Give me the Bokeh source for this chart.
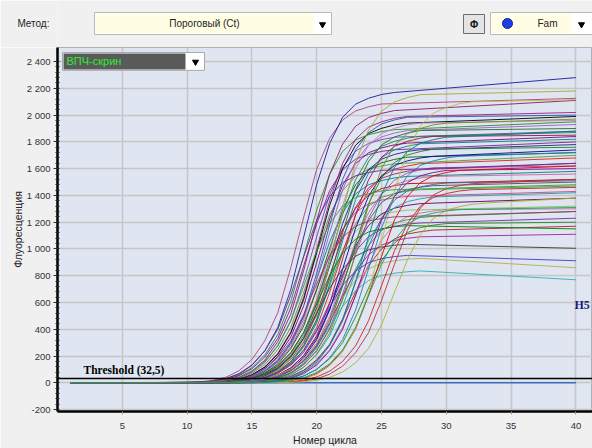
from bokeh.plotting import figure
from bokeh.models import ColumnDataSource, Span, Label, FixedTicker, Range1d
from bokeh.layouts import column
from bokeh.embed import file_html
from bokeh.resources import INLINE
from bokeh.core.properties import value

# ---------------- data ----------------
X_TICKS = [5, 10, 15, 20, 25, 30, 35, 40]
Y_TICKS = [-200, 0, 200, 400, 600, 800, 1000, 1200, 1400, 1600, 1800, 2000, 2200, 2400]
Y_MINOR = list(range(-200, 2401, 40))
THRESHOLD = 32.5
FIRST_CYCLE = 1
LAST_CYCLE = 40

# cycle where each curve's rise list begins
START = [10, 11, 11, 11, 11, 11, 11, 12, 12, 12, 12, 12, 12, 12, 12, 12, 12,
         13, 13, 13, 13, 13, 13, 13, 13, 13, 13, 13, 14, 14, 14, 14, 14, 14,
         14, 14, 14, 15, 15, 15, 15, 15, 12, 12, 13, 13, 13, 12, 16, 17, 17,
         17, 18, 16, 15, 10, 11, 11, 16]

# fluorescence, one value per cycle from START on
RISE = [
    [2, 8, 19, 42, 90, 174, 315, 525, 861, 1239, 1596, 1827, 1964, 2031, 2062, 2083],
    [4, 13, 31, 65, 131, 240, 414, 698, 1090, 1482, 1788, 1984, 2082, 2126, 2154, 2169],
    [4, 11, 27, 57, 114, 209, 361, 608, 950, 1292, 1558, 1729, 1815, 1853, 1877, 1891],
    [4, 11, 25, 53, 105, 193, 333, 560, 875, 1190, 1435, 1593, 1671, 1706, 1729, 1741],
    [2, 8, 18, 41, 88, 170, 308, 513, 841, 1210, 1558, 1784, 1917, 1982, 2013, 2034],
    [2, 7, 15, 33, 71, 137, 248, 413, 677, 974, 1254, 1436, 1543, 1596, 1620, 1637],
    [2, 7, 17, 37, 80, 154, 278, 463, 759, 1092, 1406, 1610, 1730, 1789, 1817, 1835],
    [4, 12, 28, 60, 120, 220, 380, 640, 1000, 1360, 1640, 1820, 1910, 1950, 1976, 1990],
    [3, 9, 22, 47, 93, 171, 295, 496, 775, 1054, 1271, 1411, 1480, 1511, 1531, 1542],
    [4, 12, 27, 59, 117, 215, 371, 624, 975, 1326, 1599, 1775, 1862, 1901, 1927, 1940],
    [3, 8, 20, 42, 84, 154, 266, 448, 700, 952, 1148, 1274, 1337, 1365, 1383, 1393],
    [4, 11, 25, 54, 108, 198, 342, 576, 900, 1224, 1476, 1638, 1719, 1755, 1778, 1791],
    [2, 7, 15, 34, 73, 141, 255, 425, 697, 1003, 1292, 1479, 1590, 1644, 1669, 1686],
    [2, 8, 17, 38, 82, 158, 285, 475, 779, 1121, 1444, 1653, 1777, 1837, 1866, 1885],
    [2, 6, 14, 30, 65, 125, 225, 375, 615, 885, 1140, 1305, 1403, 1451, 1473, 1488],
    [2, 8, 18, 40, 86, 166, 300, 500, 820, 1180, 1520, 1740, 1870, 1934, 1964, 1984],
    [1, 5, 12, 26, 56, 108, 195, 325, 533, 767, 988, 1131, 1216, 1257, 1277, 1290],
    [4, 11, 26, 56, 111, 204, 352, 592, 925, 1258, 1517, 1684, 1767, 1804, 1828, 1841],
    [3, 10, 22, 48, 96, 176, 304, 512, 800, 1088, 1312, 1456, 1528, 1560, 1581, 1592],
    [4, 11, 25, 53, 105, 193, 333, 560, 875, 1190, 1435, 1593, 1671, 1706, 1729, 1741],
    [3, 9, 20, 44, 87, 160, 276, 464, 725, 986, 1189, 1320, 1385, 1414, 1433, 1443],
    [4, 12, 27, 59, 117, 215, 371, 624, 975, 1326, 1599, 1775, 1862, 1901, 1927, 1940],
    [2, 7, 17, 36, 72, 132, 228, 384, 600, 816, 984, 1092, 1146, 1170, 1186, 1194],
    [2, 9, 20, 43, 93, 180, 326, 543, 890, 1280, 1649, 1888, 2029, 2098, 2131, 2153],
    [2, 7, 15, 33, 71, 137, 248, 413, 677, 974, 1254, 1436, 1543, 1596, 1620, 1637],
    [2, 7, 16, 36, 77, 149, 270, 450, 738, 1062, 1368, 1566, 1683, 1741, 1768, 1786],
    [1, 5, 12, 27, 58, 112, 203, 338, 554, 797, 1026, 1175, 1262, 1305, 1326, 1339],
    [2, 8, 17, 38, 82, 158, 285, 475, 779, 1121, 1444, 1653, 1777, 1837, 1866, 1885],
    [3, 9, 22, 47, 93, 171, 295, 496, 775, 1054, 1271, 1411, 1480, 1511, 1531, 1542],
    [3, 10, 24, 51, 102, 187, 323, 544, 850, 1156, 1394, 1547, 1624, 1658, 1680, 1692],
    [3, 8, 18, 38, 75, 138, 238, 400, 625, 850, 1025, 1138, 1194, 1219, 1235, 1244],
    [4, 11, 26, 56, 111, 204, 352, 592, 925, 1258, 1517, 1684, 1767, 1804, 1828, 1841],
    [3, 9, 21, 44, 89, 163, 281, 474, 740, 1006, 1214, 1347, 1413, 1443, 1462, 1473],
    [2, 6, 15, 32, 70, 134, 243, 405, 664, 956, 1231, 1409, 1515, 1567, 1591, 1607],
    [1, 6, 13, 28, 60, 116, 210, 350, 574, 826, 1064, 1218, 1309, 1354, 1375, 1389],
    [2, 7, 16, 35, 76, 146, 264, 440, 722, 1038, 1338, 1531, 1646, 1702, 1728, 1746],
    [1, 5, 10, 23, 49, 95, 173, 288, 472, 679, 874, 1001, 1075, 1112, 1129, 1141],
    [3, 9, 21, 45, 90, 165, 285, 480, 750, 1020, 1230, 1365, 1433, 1463, 1482, 1493],
    [3, 8, 18, 39, 78, 143, 247, 416, 650, 884, 1066, 1183, 1242, 1268, 1284, 1294],
    [4, 12, 27, 59, 117, 215, 371, 624, 975, 1326, 1599, 1775, 1862, 1901, 1927, 1940],
    [2, 6, 14, 32, 69, 133, 240, 400, 656, 944, 1216, 1392, 1496, 1547, 1571, 1587],
    [1, 5, 11, 24, 52, 100, 180, 300, 492, 708, 912, 1044, 1122, 1160, 1178, 1190],
    [2, 6, 15, 31, 62, 114, 198, 333, 520, 707, 853, 946, 993, 1014, 1028, 1035],
    [1, 4, 9, 19, 41, 80, 144, 240, 394, 566, 730, 835, 898, 928, 943, 952],
    [2, 6, 13, 28, 56, 103, 178, 299, 468, 636, 767, 851, 893, 912, 924, 930],
    [2, 5, 12, 25, 50, 92, 160, 269, 420, 571, 689, 764, 802, 819, 830, 836],
    [1, 4, 10, 22, 47, 91, 165, 275, 451, 649, 836, 957, 1029, 1064, 1080, 1091],
    [2, 7, 17, 35, 71, 130, 224, 378, 590, 802, 968, 1074, 1127, 1151, 1166, 1174],
    [2, 6, 14, 32, 69, 133, 240, 400, 656, 944, 1216, 1392, 1496, 1547, 1571, 1587],
    [3, 9, 20, 44, 87, 160, 276, 464, 725, 986, 1189, 1320, 1385, 1414, 1433, 1443],
    [4, 13, 30, 63, 127, 232, 401, 675, 1055, 1435, 1730, 1920, 2015, 2057, 2085, 2099],
    [2, 6, 14, 30, 65, 125, 225, 375, 615, 885, 1140, 1305, 1403, 1451, 1473, 1488],
    [3, 8, 19, 41, 81, 149, 257, 432, 675, 918, 1107, 1229, 1289, 1316, 1334, 1343],
    [3, 10, 24, 51, 102, 187, 323, 544, 850, 1156, 1394, 1547, 1624, 1658, 1680, 1692],
    [2, 7, 17, 37, 80, 154, 278, 463, 759, 1092, 1406, 1610, 1730, 1789, 1817, 1835],
    [2, 6, 14, 32, 69, 133, 240, 400, 656, 944, 1216, 1392, 1496, 1547, 1571, 1587],
    [3, 9, 20, 44, 87, 160, 276, 464, 725, 986, 1189, 1320, 1385, 1414, 1433, 1443],
    [1, 5, 11, 25, 54, 104, 188, 313, 513, 738, 950, 1088, 1169, 1209, 1228, 1240],
    [3, 8, 18, 39, 78, 143, 247, 416, 650, 884, 1066, 1183, 1242, 1268, 1284, 1294],
]

# fluorescence at the last cycle
END = [2125, 2280, 1950, 1800, 2110, 1700, 1880, 2020, 1580, 1990, 1430, 1840,
       1720, 1930, 1520, 2000, 1320, 1870, 1640, 1780, 1470, 1960, 1230, 2180,
       1680, 1820, 1380, 1900, 1560, 1740, 1280, 1850, 1500, 1620, 1420, 1760,
       1170, 1510, 1300, 1970, 1600, 1200, 1005, 912, 860, 770, 1110, 1150,
       1620, 1460, 2115, 1520, 1380, 1720, 1880, 1640, 1480, 1280, 1310]

COLORS = ["#b0407a", "#1c1c9c", "#2e8b2e", "#7a1f9a", "#8b1a6b", "#5a9a3a",
          "#6a4ab0", "#a0207a", "#008080", "#000000", "#d04090", "#800080",
          "#006400", "#9a60c0", "#c00000", "#3050c0", "#8fbc5f", "#1a8a5a",
          "#a02060", "#202080", "#40a040", "#c080c0", "#7030a0", "#a8a830",
          "#e02020", "#008b8b", "#600060", "#2a6a2a", "#d060a0", "#0000a0",
          "#30a030", "#a01050", "#505050", "#9a50b0", "#20a0a0", "#208020",
          "#b02020", "#4060b0", "#c070a0", "#6b8e23", "#8b008b", "#228b22",
          "#3a3a3a", "#4040c0", "#b0b050", "#30b0b0", "#a020a0", "#008000",
          "#e00000", "#d02020", "#b8c040", "#c03030", "#b0b030", "#2080c0",
          "#008080", "#6a2a9a", "#3a9a3a", "#a03070", "#20a060"]

# negative control (flat)
NC_CYCLES = [1, 40]
NC_VALUES = [0, 0]

# ---------------- layout helpers ----------------
FONT = "Liberation Sans"
X_RANGE = (0, 41.28)
Y_RANGE = (-214, 2505)
FRAME_L, FRAME_R, FRAME_T, FRAME_B = 57, 592, 47, 413
HEADER_H = 47
HEADER_MID = 23


def dx(px):
    return X_RANGE[0] + (px - FRAME_L) * (X_RANGE[1] - X_RANGE[0]) / (FRAME_R - FRAME_L)


def dy(py):
    return Y_RANGE[1] - (py - FRAME_T) * (Y_RANGE[1] - Y_RANGE[0]) / (FRAME_B - FRAME_T)


# ---------------- header (controls bar) ----------------
# the column aligns this frame with the chart frame (starting at x=57),
# so its x data units equal page pixels; "Метод:" sits in its left axis area
h = figure(width=592, height=HEADER_H, x_range=Range1d(FRAME_L, FRAME_R), y_range=Range1d(HEADER_H, 0),
           x_axis_type=None, toolbar_location=None,
           output_backend="svg", min_border=0, min_border_left=FRAME_L)
h.outline_line_color = None
h.background_fill_color = "#f0f0f0"
h.border_fill_color = "#f0f0f0"
h.xgrid.visible = False
h.ygrid.visible = False
h.yaxis.ticker = FixedTicker(ticks=[HEADER_MID], minor_ticks=[])
h.yaxis.major_label_overrides = {HEADER_MID: "Метод:"}
h.yaxis.axis_line_color = None
h.yaxis.major_tick_line_color = None
h.yaxis.minor_tick_line_color = None
h.yaxis.major_label_standoff = 2
h.yaxis.major_label_text_font = FONT
h.yaxis.major_label_text_font_size = "10px"
h.yaxis.major_label_text_color = "#1e1e1e"

h.quad(left=[94], right=[331], top=[12], bottom=[34], fill_color="white", line_color="#b9b9b9")
h.quad(left=[95], right=[313], top=[13], bottom=[33], fill_color="#fffde3", line_color=None)
h.text(x=[204], y=[HEADER_MID], text=["Пороговый (Ct)"], text_font=value(FONT), text_font_size=value("10px"),
       text_baseline="middle", text_align="center", text_color="#1e1e1e")
h.scatter(x=[322], y=[24], marker="inverted_triangle", size=6, color="black")
h.quad(left=[463], right=[484], top=[14], bottom=[33], fill_color="#e4e4e4", line_color="#6e6e6e")
h.text(x=[473.5], y=[23.5], text=["Φ"], text_font=value(FONT), text_font_size=value("10px"),
       text_font_style="bold", text_baseline="middle", text_align="center", text_color="#111")
h.quad(left=[490], right=[592], top=[12], bottom=[34], fill_color="white", line_color="#b9b9b9")
h.quad(left=[491], right=[571], top=[13], bottom=[33], fill_color="#fffde3", line_color=None)
h.scatter(x=[507], y=[HEADER_MID], marker="circle", size=10, fill_color="#1f3fe6", line_color="#10209a")
h.text(x=[547], y=[HEADER_MID], text=["Fam"], text_font=value(FONT), text_font_size=value("10px"),
       text_baseline="middle", text_align="center", text_color="#1e1e1e")
h.scatter(x=[581], y=[24], marker="inverted_triangle", size=6, color="black")

# ---------------- main chart ----------------
p = figure(width=592, height=448 - HEADER_H, x_range=Range1d(*X_RANGE), y_range=Range1d(*Y_RANGE),
           toolbar_location=None, output_backend="svg",
           min_border_left=FRAME_L, min_border_right=0, min_border_top=0,
           min_border_bottom=448 - FRAME_B)
p.background_fill_color = "#dfe6f1"
p.border_fill_color = "#f0f0f0"
p.outline_line_color = "#b0b0b0"

p.xaxis.ticker = FixedTicker(ticks=X_TICKS, minor_ticks=[])
p.yaxis.ticker = FixedTicker(ticks=Y_TICKS, minor_ticks=Y_MINOR)
p.xgrid.ticker = FixedTicker(ticks=X_TICKS)
p.ygrid.ticker = FixedTicker(ticks=Y_TICKS)
for g in (p.xgrid, p.ygrid):
    g.grid_line_color = "#c6c6c6"
    g.grid_line_width = 1.5

p.yaxis.major_label_overrides = {t: f"{t:,}".replace(",", " ") for t in Y_TICKS}
for ax in (p.xaxis, p.yaxis):
    ax.axis_line_color = "black"
    ax.axis_line_width = 2.5
    ax.major_label_text_font = FONT
    ax.major_label_text_font_size = "9.5px"
    ax.major_label_text_color = "#333333"
    ax.axis_label_text_font = FONT
    ax.axis_label_text_font_size = "10.5px"
    ax.axis_label_text_font_style = "normal"
    ax.axis_label_text_color = "#222222"
p.yaxis.axis_label = "Флуоресценция"
p.xaxis.axis_label = "Номер цикла"
p.yaxis.major_tick_line_color = "#333333"
p.yaxis.major_tick_out = 4
p.yaxis.major_tick_in = 0
p.yaxis.minor_tick_line_color = "#222222"
p.yaxis.minor_tick_out = 2
p.yaxis.minor_tick_in = 2
p.yaxis.major_label_standoff = 3
p.yaxis.axis_label_standoff = 0
p.xaxis.major_tick_line_color = "#9a9a9a"
p.xaxis.major_tick_out = 3
p.xaxis.major_tick_in = 0
p.xaxis.minor_tick_line_color = None
p.xaxis.major_label_standoff = 8
p.xaxis.axis_label_standoff = 2

# negative control
p.line(NC_CYCLES, NC_VALUES, line_color="#3a6fc0", line_width=1.5)

xs, ys = [], []
for s, vals, e in zip(START, RISE, END):
    xs.append([FIRST_CYCLE] + list(range(s, s + len(vals))) + [LAST_CYCLE])
    ys.append([0] + vals + [e])
src = ColumnDataSource(dict(xs=xs, ys=ys, color=COLORS))
p.multi_line("xs", "ys", source=src, line_color="color", line_width=1, line_alpha=0.9)

p.add_layout(Span(location=THRESHOLD, dimension="width", line_color="black", line_width=1.5))
p.add_layout(Label(x=dx(83), y=dy(371), text="Threshold (32,5)", text_baseline="middle",
                   text_font="Liberation Serif", text_font_style="bold",
                   text_font_size="11.5px", text_color="black"))
p.add_layout(Label(x=dx(574), y=dy(306), text="H5", text_baseline="middle",
                   text_font="Liberation Serif", text_font_style="bold",
                   text_font_size="12px", text_color="#1a1a7a"))

# channel selector box inside the chart
p.quad(left=[dx(62)], right=[dx(204)], top=[dy(52)], bottom=[dy(70)],
       fill_color="white", line_color="#a8a8a8")
p.quad(left=[dx(63)], right=[dx(185)], top=[dy(53)], bottom=[dy(69)],
       fill_color="#5a5a5a", line_color=None)
p.text(x=[dx(66)], y=[dy(61)], text=["ВПЧ-скрин"], text_font=value(FONT),
       text_font_size=value("11px"), text_baseline="middle", text_color="#2cf02c")
p.scatter(x=[dx(195)], y=[dy(61.5)], marker="inverted_triangle", size=6, color="black")

layout = column(h, p, spacing=0)
open("out.html", "w").write(file_html(layout, INLINE))
